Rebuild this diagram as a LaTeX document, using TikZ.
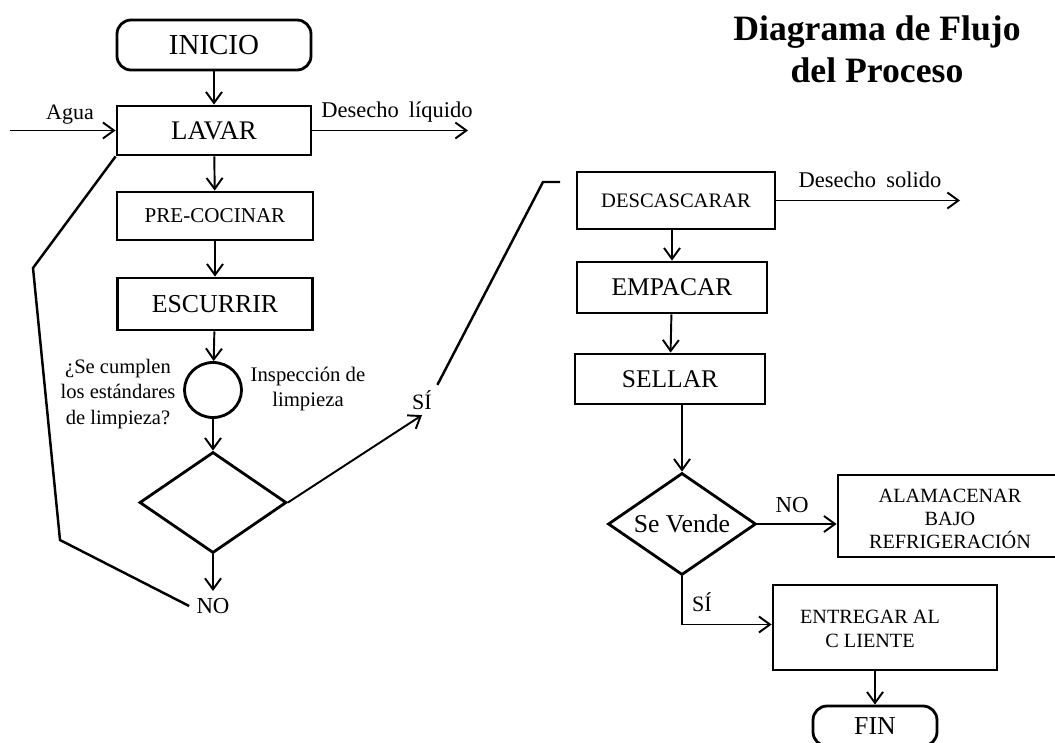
\documentclass[tikz,border=0pt]{standalone}
\usepackage{fontspec}
\setmainfont{Liberation Serif}
\usetikzlibrary{shapes.geometric,arrows.meta,calc}
\begin{document}
\begin{tikzpicture}[x=0.2mm,y=-0.2mm,
  wh/.style 2 args={minimum width=#1*0.2mm,minimum height=#2*0.2mm},
  box/.style={draw,line width=1.6pt,rectangle,inner sep=0pt,align=center},
  con/.style={line width=1.1pt},
  arr/.style={con,-{Straight Barb[length=2.2mm,width=3.2mm,line width=1.1pt]}},
  lab/.style={inner sep=4pt,align=center},
]
\useasboundingbox (0,0) rectangle (1055,743);

% title
\node[align=center,font=\bfseries\fontsize{20.3}{23.8}\selectfont] (title) at (877,49) {Diagrama de Flujo\\del Proceso};

% left column
\node[box,rounded corners=8pt,wh={194}{50},font=\fontsize{16.5}{19}\selectfont] (inicio) at (214,45) {INICIO};
\node[box,wh={194}{49},font=\fontsize{15.3}{18}\selectfont] (lavar) at (214,130.5) {LAVAR};
\node[box,wh={196}{48},font=\fontsize{12}{14}\selectfont] (pre) at (215,216) {PRE-COCINAR};
\node[box,wh={195}{52},font=\fontsize{14.7}{17}\selectfont] (esc) at (215,304) {ESCURRIR};
\node[draw,ellipse,line width=1.6pt,wh={57}{55},inner sep=0pt] (insp) at (213,390) {};
\node[draw,diamond,line width=1.6pt,wh={147}{101},inner sep=0pt] (d1) at (213,502.5) {};

\node[lab,font=\fontsize{11.7}{14.5}\selectfont] (preg) at (118,394) {¿Se cumplen\\los estándares\\de limpieza?};
\node[lab,font=\fontsize{11.8}{14.3}\selectfont] (inspl) at (308,389) {Inspección de\\limpieza};

\node[lab,font=\fontsize{12.5}{15}\selectfont] (agua) at (70,115) {Agua};
\node[lab,font=\fontsize{12.8}{15}\selectfont] (dliql) at (397,112) {Desecho\hspace{0.45em}líquido};
\coordinate (ain) at (10,130.5);
\coordinate (dliq) at (468,130.5);

\node[lab,font=\fontsize{13}{15}\selectfont] (no1) at (213,606) {NO};
\node[lab,inner sep=3pt,font=\fontsize{12.5}{15}\selectfont] (si1) at (422,400) {SÍ};
\coordinate (l1) at (60,540);
\coordinate (l2) at (33,268);
\coordinate (s1) at (543,182);
\coordinate (s2) at (560,182);

\draw[arr] (inicio) -- (lavar);
\draw[arr] (lavar) -- (pre);
\draw[arr] (pre) -- (esc);
\draw[arr] (esc) -- (insp);
\draw[arr] (insp) -- (d1);
\draw[arr] (d1.south) -- (no1.north);
\draw[arr] (ain) -- (lavar.west);
\draw[arr] (lavar.east) -- (dliq);
\draw[line width=1.4pt] (no1.west) -- (l1) -- (l2) -- (lavar.south west);
\draw[arr] (d1.east) -- (si1.south);
\draw[line width=1.4pt] (si1.north east) -- (s1) -- (s2);

% right column
\node[box,wh={198}{57},font=\fontsize{11.7}{14}\selectfont] (desc) at (676,200.5) {DESCASCARAR};
\node[box,wh={190}{51},font=\fontsize{14.5}{17}\selectfont] (emp) at (672,287.5) {EMPACAR};
\node[box,wh={190}{50},font=\fontsize{14.5}{17}\selectfont] (sel) at (670,379) {SELLAR};
\node[draw,diamond,line width=1.6pt,wh={148}{102},aspect=1.45,inner sep=0pt,font=\fontsize{14.6}{17}\selectfont] (d2) at (682,524) {Se Vende};
\node[box,wh={250}{82}] (alm) at (963,516) {};
\node[lab,font=\fontsize{11.5}{13.3}\selectfont] (almt) at (950,519) {ALAMACENAR\\BAJO\\REFRIGERACIÓN};
\node[box,wh={224}{85}] (ent) at (885,627.5) {};
\node[lab,font=\fontsize{11.5}{13.6}\selectfont] (entt) at (870,629) {ENTREGAR AL\\C LIENTE};
\node[box,rounded corners=8pt,wh={124}{40},font=\fontsize{14.7}{17}\selectfont] (fin) at (875,726) {FIN};

\node[lab,font=\fontsize{12.8}{15}\selectfont] (dsoll) at (870,180) {Desecho\hspace{0.45em}solido};
\coordinate (dsol) at (960,200.5);
\node[lab,font=\fontsize{13}{15}\selectfont] (no2) at (792,505) {NO};
\node[lab,font=\fontsize{12.5}{15}\selectfont] (si2) at (702,602) {SÍ};

\draw[arr] (desc.east) -- (dsol);
\draw[arr] (emp.north |- desc.south) -- (emp.north);
\draw[arr] (emp) -- (sel);
\draw[arr] (d2.north |- sel.south) -- (d2.north);
\draw[arr] (d2.east) -- (d2.east -| alm.west);
\draw[arr] (d2.south) |- ($(ent.west)+(0,-3)$);
\draw[arr] (fin.north |- ent.south) -- (fin.north);
\end{tikzpicture}
\end{document}
